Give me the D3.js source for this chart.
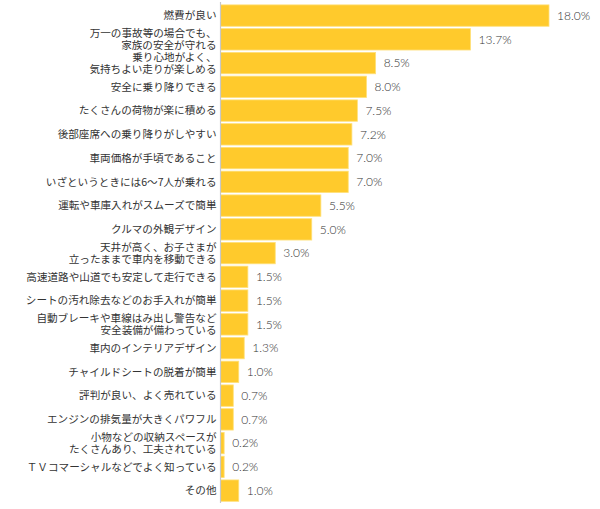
<!DOCTYPE html>
<html><head><meta charset="utf-8">
<script src="https://cdn.jsdelivr.net/npm/d3@7"></script>
<style>
html,body{margin:0;padding:0;background:#fff;}
svg{display:block;}
</style></head>
<body>
<svg id="chart" width="600" height="509"></svg>
<script>
const categories = [
  "燃費が良い",
  "万一の事故等の場合でも、\n家族の安全が守れる",
  "乗り心地がよく、\n気持ちよい走りが楽しめる",
  "安全に乗り降りできる",
  "たくさんの荷物が楽に積める",
  "後部座席への乗り降りがしやすい",
  "車両価格が手頃であること",
  "いざというときには6～7人が乗れる",
  "運転や車庫入れがスムーズで簡単",
  "クルマの外観デザイン",
  "天井が高く、お子さまが\n立ったままで車内を移動できる",
  "高速道路や山道でも安定して走行できる",
  "シートの汚れ除去などのお手入れが簡単",
  "自動ブレーキや車線はみ出し警告など\n安全装備が備わっている",
  "車内のインテリアデザイン",
  "チャイルドシートの脱着が簡単",
  "評判が良い、よく売れている",
  "エンジンの排気量が大きくパワフル",
  "小物などの収納スペースが\nたくさんあり、工夫されている",
  "ＴＶコマーシャルなどでよく知っている",
  "その他"
];
const values = [18.0, 13.7, 8.5, 8.0, 7.5, 7.2, 7.0, 7.0, 5.5, 5.0, 3.0, 1.5, 1.5, 1.5, 1.3, 1.0, 0.7, 0.7, 0.2, 0.2, 1.0];

const data = categories.map((c, i) => ({ cat: c, val: values[i], i }));

const svg = d3.select("#chart");
const x0 = 220.5;
const x = d3.scaleLinear().domain([0, 18]).range([x0, 549]);
const y = d3.scaleBand().domain(d3.range(categories.length)).range([3.7, 502.5])
  .paddingInner(0.1).paddingOuter(0.05);

// bars
svg.append("g").selectAll("rect").data(data).join("rect")
  .attr("x", x(0))
  .attr("y", d => y(d.i))
  .attr("width", d => x(d.val) - x(0))
  .attr("height", y.bandwidth())
  .attr("fill", "#FFCA2C")
  .attr("stroke", "#FFE07A")
  .attr("stroke-width", 0.8);

// axis line
svg.append("line")
  .attr("x1", x0).attr("x2", x0)
  .attr("y1", 2).attr("y2", 503)
  .attr("stroke", "#c8c8c8").attr("stroke-width", 1.2);

// category labels
const lg = svg.append("g")
  .attr("font-family", "'Noto Sans CJK JP', sans-serif")
  .attr("font-size", 10.6)
  .attr("fill", "#333");
data.forEach(d => {
  const lines = d.cat.split("\n");
  const cy = y(d.i) + y.bandwidth() / 2;
  const lh = 12;
  const t = lg.append("text").attr("text-anchor", "end");
  lines.forEach((ln, k) => {
    t.append("tspan")
      .attr("x", 216.5)
      .attr("y", cy + (k - (lines.length - 1) / 2) * lh)
      .attr("dy", "0.36em")
      .text(ln);
  });
});

// value labels
svg.append("g")
  .attr("font-family", "Lato, 'Open Sans', sans-serif")
  .attr("font-weight", 300)
  .attr("font-size", 12)
  .attr("fill", "#333")
  .selectAll("text").data(data).join("text")
  .attr("x", d => x(d.val) + 8)
  .attr("y", d => y(d.i) + y.bandwidth() / 2)
  .attr("dy", "0.36em")
  .text(d => d.val.toFixed(1) + "%");
</script>
</body></html>
